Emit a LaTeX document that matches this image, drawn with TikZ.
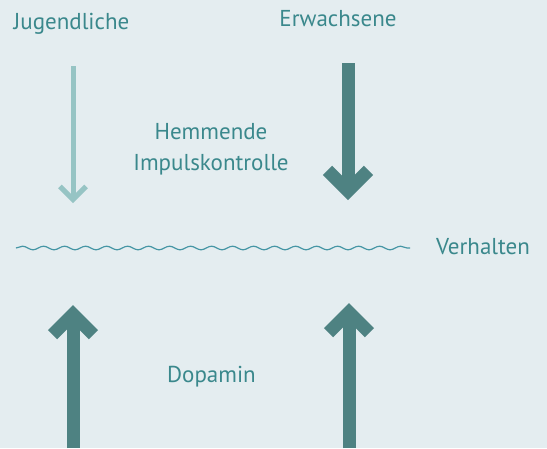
\documentclass[tikz,border=0pt]{standalone}
\usepackage{fontspec}
\setmainfont{PT Sans}
\usetikzlibrary{arrows.meta, decorations.pathmorphing}
\definecolor{paperbg}{RGB}{228,237,240}
\definecolor{tealtext}{RGB}{58,136,140}
\definecolor{tealdark}{RGB}{78,130,130}
\definecolor{teallight}{RGB}{150,196,196}
\definecolor{tealwave}{RGB}{70,150,165}

\begin{document}
\begin{tikzpicture} [
      x=1pt, y=-1pt,
      word/.style={text=tealtext, font=\fontsize{23}{31}\selectfont, inner sep=0pt},
      strong/.style={draw=tealdark, line width=13pt, -{Straight Barb[length=20.5pt, width=41pt, sharp]}},
      weak/.style={draw=teallight, line width=5pt, -{Straight Barb[length=13pt, width=26pt, sharp]}},
      wave/.style={draw=tealwave, line width=1.2pt, decorate, decoration={snake, segment length=21pt, amplitude=1.8pt}}
  ]
  \useasboundingbox (0,0) rectangle (547,448);
  \fill[paperbg] (0,0) rectangle (547,448);

  \node[word, anchor=base] (jugend) at (71.5,29) {Jugendliche};
  \node[word, anchor=base] (erwachs) at (338,26) {Erwachsene};
  \node[word, align=center] (hemmung) at (211,149) {Hemmende\\Impulskontrolle};
  \node[word, anchor=base west] (verhalten) at (436,254) {Verhalten};
  \node[word, anchor=base] (dopamin) at (211.5,382) {Dopamin};

  \coordinate (jtop) at (73,66);
  \coordinate (jtip) at (73,203);
  \coordinate (etop) at (348,63);
  \coordinate (etip) at (348,200);
  \coordinate (jbot) at (73,448);
  \coordinate (jup) at (73,305);
  \coordinate (ebot) at (349,448);
  \coordinate (eup) at (349,303);
  \coordinate (wleft) at (16,248);
  \coordinate (wright) at (410,248);

  \draw[weak] (jtop) -- (jtip);
  \draw[strong] (etop) -- (etip);
  \draw[wave] (wleft) -- (wright);
  \draw[strong] (jbot) -- (jup);
  \draw[strong] (ebot) -- (eup);
  \end{tikzpicture}
\end{document}
